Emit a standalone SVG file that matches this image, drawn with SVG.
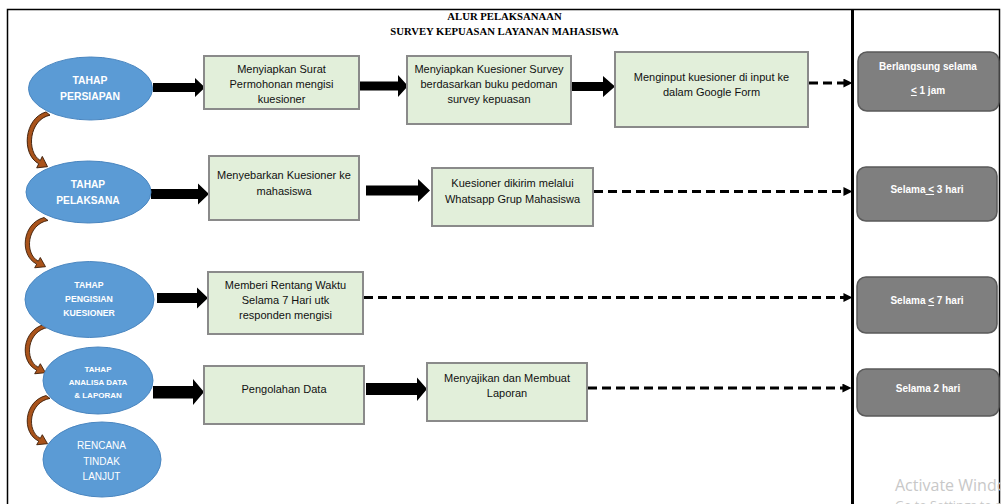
<svg xmlns="http://www.w3.org/2000/svg" width="1001" height="504" viewBox="0 0 1001 504">
<style>
.ttl{font-family:"Liberation Serif",serif;font-weight:bold;font-size:10.7px;fill:#000;text-anchor:middle}
.el{fill:#5B9BD5;stroke:#4A86C0;stroke-width:1}
.et{font-family:"Liberation Sans",Arial,sans-serif;font-weight:bold;fill:#fff;text-anchor:middle}
.bx{fill:#E2EFDA;stroke:#8A8A8A;stroke-width:2}
.bt{font-family:"Liberation Sans",Arial,sans-serif;font-size:11px;fill:#111;text-anchor:middle}
.gb{fill:#7F7F7F;stroke:#5A5A5A;stroke-width:1.5}
.gt{font-family:"Liberation Sans",Arial,sans-serif;font-weight:bold;font-size:10px;fill:#fff;text-anchor:middle}
.blk{fill:#000}
.dash{stroke:#000;stroke-width:3;stroke-dasharray:9 5;fill:none}
.crv{fill:#A9531B;stroke:#3A1B06;stroke-width:0.9}
.wm{font-family:"Open Sans","Liberation Sans",sans-serif;fill:#C8C8C8}
</style>
<defs>
<marker id="dh" markerUnits="userSpaceOnUse" markerWidth="9" markerHeight="9" viewBox="0 0 8 8" refX="0.5" refY="4" orient="auto">
<path d="M0,0 L8,4 L0,8 Z" fill="#000"/>
</marker>
<path id="curve" d="M0,-1 C-22,5 -25,38 -7.3,47 L-9.3,50.8 L1.5,49.7 L-3.7,40.2 L-5.7,44 C-20,36 -17,6 4,2 Z"/>
</defs>
<rect width="1001" height="504" fill="#fff"/>
<rect x="7.5" y="9.5" width="992" height="510" fill="none" stroke="#000" stroke-width="1.5"/>
<line x1="852.5" y1="9" x2="852.5" y2="504" stroke="#000" stroke-width="3"/>
<g id="title">
<text class="ttl" x="504.5" y="20">ALUR PELAKSANAAN</text>
<text class="ttl" x="504.5" y="35">SURVEY KEPUASAN LAYANAN MAHASISWA</text>
</g>
<g id="connectors">
<polygon class="blk" points="153,83 195,83 195,78 205,87.5 195,97 195,92 153,92"/>
<polygon class="blk" points="359,81.5 398,81.5 398,75 408,86 398,97 398,90.5 359,90.5"/>
<polygon class="blk" points="571,82 603,82 603,76 615,86.5 603,97 603,91 571,91"/>
<polygon class="blk" points="151,189 198,189 198,183.5 209,194 198,204.5 198,199 151,199"/>
<polygon class="blk" points="366,185.5 418,185.5 418,179 430,190.5 418,202 418,195.5 366,195.5"/>
<polygon class="blk" points="157,293 197,293 197,287.5 208,298 197,308.5 197,303 157,303"/>
<polygon class="blk" points="153,386 193,386 193,379 204,392 193,405 193,398.5 153,398.5"/>
<polygon class="blk" points="366,383 417,383 417,377.5 427,389 417,401 417,395 366,395"/>
<line class="dash" x1="809" y1="83" x2="844" y2="83" marker-end="url(#dh)"/>
<line class="dash" x1="594" y1="191.5" x2="844" y2="191.5" marker-end="url(#dh)"/>
<line class="dash" x1="364" y1="297.5" x2="844" y2="297.5" marker-end="url(#dh)"/>
<line class="dash" x1="588" y1="388" x2="843" y2="388" marker-end="url(#dh)"/>
<use href="#curve" class="crv" transform="translate(46,113) scale(1,1.08)"/>
<use href="#curve" class="crv" transform="translate(44,218.5) scale(1,0.97)"/>
<use href="#curve" class="crv" transform="translate(44,325.5) scale(1,0.95)"/>
<use href="#curve" class="crv" transform="translate(46,396.5) scale(1,0.95)"/>
</g>
<g id="tahap-persiapan">
<ellipse class="el" cx="90.5" cy="88.5" rx="62" ry="31.5"/>
<text class="et" font-size="10.4" x="90" y="84">TAHAP</text>
<text class="et" font-size="10.4" x="90" y="100">PERSIAPAN</text>
</g>
<g id="tahap-pelaksana">
<ellipse class="el" cx="88.5" cy="192" rx="62.5" ry="31"/>
<text class="et" font-size="10.2" x="88" y="188">TAHAP</text>
<text class="et" font-size="10.2" x="88" y="204">PELAKSANA</text>
</g>
<g id="tahap-pengisian">
<ellipse class="el" cx="89.5" cy="299.5" rx="64.5" ry="38"/>
<text class="et" font-size="8.7" x="89" y="287.5">TAHAP</text>
<text class="et" font-size="8.7" x="89" y="301.5">PENGISIAN</text>
<text class="et" font-size="8.7" x="89" y="315.5">KUESIONER</text>
</g>
<g id="tahap-analisa">
<ellipse class="el" cx="98" cy="380.5" rx="55" ry="33.5"/>
<text class="et" font-size="8" x="98" y="372">TAHAP</text>
<text class="et" font-size="8" x="98" y="385">ANALISA DATA</text>
<text class="et" font-size="8" x="98" y="397.5">&amp; LAPORAN</text>
</g>
<g id="rencana">
<ellipse class="el" cx="102" cy="459.5" rx="59" ry="37.5"/>
<text class="et" style="font-weight:normal" font-size="10" x="101.5" y="449">RENCANA</text>
<text class="et" style="font-weight:normal" font-size="10" x="101.5" y="465">TINDAK</text>
<text class="et" style="font-weight:normal" font-size="10" x="101.5" y="480">LANJUT</text>
</g>
<g id="box-surat">
<rect class="bx" x="204" y="56" width="155" height="53"/>
<text class="bt" x="281.5" y="73">Menyiapkan Surat</text>
<text class="bt" x="281.5" y="88">Permohonan mengisi</text>
<text class="bt" x="281.5" y="103">kuesioner</text>
</g>
<g id="box-kuesioner">
<rect class="bx" x="407" y="56" width="164" height="68"/>
<text class="bt" x="489" y="73">Menyiapkan Kuesioner Survey</text>
<text class="bt" x="489" y="88">berdasarkan buku pedoman</text>
<text class="bt" x="489" y="103">survey kepuasan</text>
</g>
<g id="box-input">
<rect class="bx" x="615" y="52" width="193" height="75"/>
<text class="bt" x="711.5" y="81">Menginput kuesioner di input ke</text>
<text class="bt" x="711.5" y="96">dalam Google Form</text>
</g>
<g id="box-sebar">
<rect class="bx" x="209" y="156" width="150" height="64"/>
<text class="bt" x="284" y="179">Menyebarkan Kuesioner ke</text>
<text class="bt" x="284" y="195">mahasiswa</text>
</g>
<g id="box-whatsapp">
<rect class="bx" x="432" y="168" width="161" height="58"/>
<text class="bt" x="512.5" y="187">Kuesioner dikirim melalui</text>
<text class="bt" x="512.5" y="203">Whatsapp Grup Mahasiswa</text>
</g>
<g id="box-rentang">
<rect class="bx" x="208" y="272" width="155" height="62"/>
<text class="bt" x="285.5" y="289">Memberi Rentang Waktu</text>
<text class="bt" x="285.5" y="304">Selama 7 Hari utk</text>
<text class="bt" x="285.5" y="319">responden mengisi</text>
</g>
<g id="box-olah">
<rect class="bx" x="204" y="366" width="160" height="58"/>
<text class="bt" x="284" y="393">Pengolahan Data</text>
</g>
<g id="box-laporan">
<rect class="bx" x="427" y="363" width="160" height="58"/>
<text class="bt" x="507" y="382">Menyajikan dan Membuat</text>
<text class="bt" x="507" y="397">Laporan</text>
</g>
<g id="durasi-1">
<rect class="gb" x="858" y="52" width="141" height="59" rx="9"/>
<text class="gt" x="928" y="70">Berlangsung selama</text>
<text class="gt" x="928" y="94"><tspan text-decoration="underline">&lt;</tspan> 1 jam</text>
</g>
<g id="durasi-2">
<rect class="gb" x="857" y="167" width="140" height="54" rx="9"/>
<text class="gt" x="927" y="193">Selama<tspan text-decoration="underline"> &lt;</tspan> 3 hari</text>
</g>
<g id="durasi-3">
<rect class="gb" x="857" y="277" width="140" height="56" rx="9"/>
<text class="gt" x="927" y="304">Selama <tspan text-decoration="underline">&lt;</tspan> 7 hari</text>
</g>
<g id="durasi-4">
<rect class="gb" x="857" y="369" width="142" height="47" rx="9"/>
<text class="gt" x="928" y="392">Selama 2 hari</text>
</g>
<g id="watermark">
<text class="wm" font-size="16" x="895" y="491">Activate Windows</text>
<text class="wm" font-size="12.5" x="895" y="510">Go to Settings to activate Windows.</text>
</g>
</svg>
